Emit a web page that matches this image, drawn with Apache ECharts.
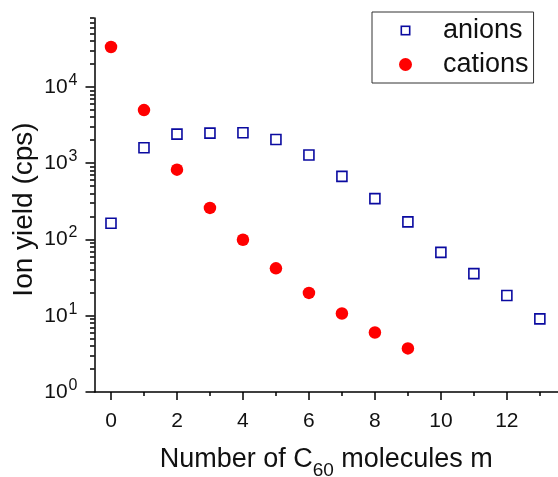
<!DOCTYPE html>
<html><head><meta charset="utf-8">
<script src="https://cdn.jsdelivr.net/npm/echarts@6/dist/echarts.min.js"></script>
<style>html,body{margin:0;padding:0;background:#fff}#c{width:558px;height:477px}</style>
</head><body><div id="c"></div>
<script>
const xValues = [0,1,2,3,4,5,6,7,8,9,10,11,12,13];
const anions = [163,1595,2405,2480,2505,2047,1279,672,343,170,67.6,35.6,18.4,9.08];
const cationsX = [0,1,2,3,4,5,6,7,8,9];
const cations = [33300,4960,822,259,99,41.8,19.9,10.7,6.03,3.73];
const xMajorTicks = [0,2,4,6,8,10,12];
const xMinorTicks = [1,3,5,7,9,11,13];
const yMajorTicks = [1,10,100,1000,10000];
const yMinorTicks = [];
for (const d of [1,10,100,1000,10000]) for (let k=2;k<=9;k++){ if (d*k<=80000) yMinorTicks.push(d*k); }

const FONT = 'Liberation Sans, Arial, sans-serif';
const BLUE = '#0a0aa0';
const squareIcon = 'image://data:image/svg+xml;utf8,' + encodeURIComponent(
  '<svg xmlns="http://www.w3.org/2000/svg" width="13" height="13" viewBox="0 0 13 13">' +
  '<rect x="2.3" y="2.3" width="8.4" height="8.4" fill="none" stroke="' + BLUE + '" stroke-width="1.6"/></svg>');

const chart = echarts.init(document.getElementById('c'));
const axisLineStyle = {color:'#000', width:1.5};
chart.setOption({
  animation:false,
  grid:{left:94.5, top:18, right:0, bottom:85, containLabel:false, outerBoundsMode:'none'},
  xAxis:[{
    type:'value', min:-0.5, max:13.55, position:'bottom',
    axisLine:{show:true, onZero:false, lineStyle:axisLineStyle},
    axisTick:{show:true, inside:false, length:8, lineStyle:axisLineStyle, customValues:xMajorTicks},
    axisLabel:{show:true, margin:19, color:'#111', fontSize:21, fontFamily:FONT, customValues:xMajorTicks},
    splitLine:{show:false},
    name:'Number of C{sub|60} molecules m', nameLocation:'middle', nameGap:47, nameMoveOverlap:false,
    nameTextStyle:{color:'#111', fontSize:27, fontFamily:FONT, rich:{sub:{fontSize:19, fontFamily:FONT, color:'#111', padding:[22,0,0,0]}}}
  },{
    type:'value', min:-0.5, max:13.55, position:'bottom',
    axisLine:{show:false, onZero:false},
    axisTick:{show:true, inside:false, length:4, lineStyle:axisLineStyle, customValues:xMinorTicks},
    axisLabel:{show:false}, splitLine:{show:false}
  }],
  yAxis:[{
    type:'log', logBase:10, min:1, max:80000, position:'left',
    axisLine:{show:true, onZero:false, lineStyle:axisLineStyle},
    axisTick:{show:true, inside:false, length:9, lineStyle:axisLineStyle, customValues:yMajorTicks},
    axisLabel:{show:true, margin:17, color:'#111', fontSize:21, fontFamily:FONT, customValues:yMajorTicks,
      formatter:function(v){return '10{sup|'+Math.round(Math.log10(v))+'}';},
      rich:{sup:{fontSize:16, fontFamily:FONT, color:'#111', padding:[0,0,13,1]}}},
    splitLine:{show:false},
    name:'Ion yield (cps)', nameLocation:'middle', nameGap:56, nameMoveOverlap:false,
    nameTextStyle:{color:'#111', fontSize:28, fontFamily:FONT, padding:[0,9,0,0]}
  },{
    type:'log', logBase:10, min:1, max:80000, position:'left',
    axisLine:{show:false, onZero:false},
    axisTick:{show:true, inside:false, length:4.5, lineStyle:axisLineStyle, customValues:yMinorTicks},
    axisLabel:{show:false}, splitLine:{show:false}
  }],
  legend:{
    orient:'vertical', left:372, top:12, itemWidth:13, itemHeight:13, itemGap:7,
    padding:[5,5,5,27], borderColor:'#333', borderWidth:1, borderRadius:0,
    textStyle:{fontSize:27, fontFamily:FONT, color:'#111', padding:[0,0,0,26]},
    data:[{name:'anions', icon:squareIcon},{name:'cations', icon:'circle'}]
  },
  series:[{
    name:'anions', type:'scatter', symbol:'rect', symbolSize:10,
    itemStyle:{color:'rgba(255,255,255,0)', borderColor:BLUE, borderWidth:1.6, opacity:1},
    data: xValues.map((x,i)=>[x, anions[i]])
  },{
    name:'cations', type:'scatter', symbol:'circle', symbolSize:12.5,
    itemStyle:{color:'#ff0000', opacity:1},
    data: cationsX.map((x,i)=>[x, cations[i]])
  }]
});
</script></body></html>
